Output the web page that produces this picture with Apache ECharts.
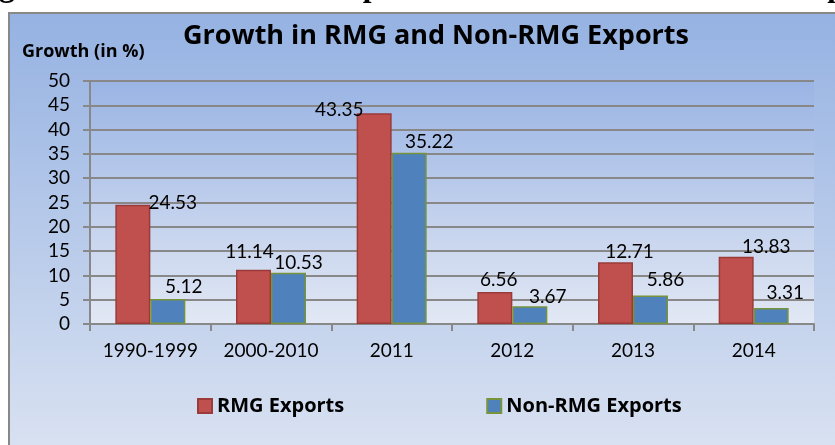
<!DOCTYPE html>
<html>
<head>
<meta charset="utf-8">
<title>Growth in RMG and Non-RMG Exports</title>
<script src="https://cdn.jsdelivr.net/npm/echarts@6/dist/echarts.min.js"></script>
<style>
  html, body { margin: 0; padding: 0; background: #ffffff; }
  #chart { width: 835px; height: 445px; }
</style>
</head>
<body>
<div id="chart"></div>
<script>
// Export growth by period (%)
const periods = ['1990-1999', '2000-2010', '2011', '2012', '2013', '2014'];
const rmgGrowth = [24.53, 11.14, 43.35, 6.56, 12.71, 13.83];
const nonRmgGrowth = [5.12, 10.53, 35.22, 3.67, 5.86, 3.31];
const yTicks = { min: 0, max: 50, interval: 5 };

// Hand-placed nudges for the value labels, [dx, dy] in pixels
const rmgLabelNudge = [[40, 13], [-4, -3], [-35, 11], [4, 2], [14, 4], [30, 5]];
const nonRmgLabelNudge = [[16, 2], [10, 5], [20, 4], [18, 5], [15, -1], [14, -1]];

const FONT = 'Lato';
const BOLD_FONT = '"Open Sans"';

function withLabels(values, nudges) {
  return values.map((v, i) => ({ value: v, label: { offset: nudges[i] } }));
}

const chart = echarts.init(document.getElementById('chart'), null, { renderer: 'canvas' });

const option = {
  backgroundColor: '#ffffff',
  animation: false,
  textStyle: { fontFamily: FONT },
  graphic: [
    {
      type: 'rect',
      z: -10,
      silent: true,
      shape: { x: 9, y: 13, width: 900, height: 500 },
      style: {
        fill: new echarts.graphic.LinearGradient(0, 0, 0, 1, [
          { offset: 0, color: '#95b2e2' },
          { offset: 0.9, color: '#dbe3f2' },
          { offset: 1, color: '#dfe6f3' }
        ]),
        stroke: '#888888',
        lineWidth: 2
      }
    },
    {
      // figure caption running above the chart frame
      type: 'text',
      silent: true,
      z: 10,
      x: -29,
      y: -12,
      style: {
        text: 'Figure 4: Growth of RMG exports exceeds that of Non-RMG exports',
        font: 'bold 31.5px "Liberation Serif"',
        verticalAlign: 'middle',
        align: 'left',
        fill: '#000000'
      }
    },
    {
      type: 'text',
      silent: true,
      left: 22,
      top: 43,
      style: {
        text: 'Growth (in %)',
        font: 'bold 18px ' + BOLD_FONT,
        fill: '#000000'
      }
    }
  ],
  title: {
    text: 'Growth in RMG and Non-RMG Exports',
    left: 183,
    top: 23,
    padding: 0,
    textStyle: { fontFamily: BOLD_FONT, fontWeight: 'bold', fontSize: 27, color: '#000000' }
  },
  legend: {
    left: 197,
    top: 396,
    padding: 0,
    itemGap: 142,
    itemWidth: 14,
    itemHeight: 14,
    icon: 'rect',
    textStyle: { fontFamily: BOLD_FONT, fontWeight: 'bold', fontSize: 20, color: '#000000' },
    data: ['RMG Exports', 'Non-RMG Exports']
  },
  grid: {
    left: 90,
    right: 21,
    top: 81,
    bottom: 121,
    show: true,
    borderWidth: 0,
    backgroundColor: new echarts.graphic.LinearGradient(0, 0, 0, 1, [
      { offset: 0, color: '#9ab4e4' },
      { offset: 1, color: '#e2e8f4' }
    ])
  },
  xAxis: {
    type: 'category',
    data: periods,
    axisLine: { lineStyle: { color: '#888888', width: 2 } },
    axisTick: { show: true, length: 7, lineStyle: { color: '#888888', width: 2 } },
    axisLabel: { interval: 0, margin: 17, fontFamily: FONT, fontSize: 19, color: '#000000' }
  },
  yAxis: {
    type: 'value',
    min: yTicks.min,
    max: yTicks.max,
    interval: yTicks.interval,
    axisLine: { show: true, lineStyle: { color: '#888888', width: 2 } },
    axisTick: { show: true, length: 7, lineStyle: { color: '#888888', width: 2 } },
    axisLabel: { margin: 20, fontFamily: FONT, fontSize: 19, color: '#000000' },
    splitLine: { lineStyle: { color: '#888888', width: 2 } }
  },
  series: [
    {
      name: 'RMG Exports',
      type: 'bar',
      barWidth: 35,
      barGap: '0%',
      data: withLabels(rmgGrowth, rmgLabelNudge),
      itemStyle: { color: '#c0504d', borderColor: '#9a3b39', borderWidth: 1.5 },
      label: { show: true, position: 'top', distance: 5, fontFamily: FONT, fontSize: 19, color: '#000000' }
    },
    {
      name: 'Non-RMG Exports',
      type: 'bar',
      barWidth: 35,
      barGap: '0%',
      data: withLabels(nonRmgGrowth, nonRmgLabelNudge),
      itemStyle: { color: '#4f81bd', borderColor: '#77933c', borderWidth: 1.5 },
      label: { show: true, position: 'top', distance: 5, fontFamily: FONT, fontSize: 19, color: '#000000' }
    }
  ]
};

chart.setOption(option);
</script>
</body>
</html>
